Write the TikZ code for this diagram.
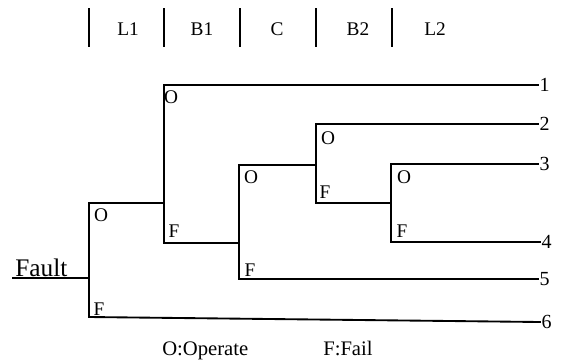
\documentclass[tikz,border=0pt]{standalone}
\usepackage{fontspec}
\setmainfont{Liberation Serif}
\begin{document}
\begin{tikzpicture}[x=0.75pt,y=-0.75pt,
  br/.style={line width=1.4pt,line join=miter,line cap=rect},
  sep/.style={line width=1.1pt},
  hdr/.style={font=\fontsize{14.5}{16}\selectfont,inner sep=0pt},
  ofl/.style={font=\fontsize{14.5}{16}\selectfont,inner sep=0pt},
  num/.style={font=\fontsize{15}{17}\selectfont,inner sep=1pt,anchor=west},
  leg/.style={font=\fontsize{15.5}{18}\selectfont,inner sep=0pt,anchor=base west}]
\useasboundingbox (0,0) rectangle (561,362);
% header
\foreach \i/\x in {1/89,2/164,3/240,4/316,5/392}{
  \coordinate (s\i t) at (\x,8); \coordinate (s\i b) at (\x,47);
  \draw[sep] (s\i t) -- (s\i b);}
\node[hdr] (hL1) at (128,29.5) {L1};
\node[hdr] (hB1) at (202,29.5) {B1};
\node[hdr] (hC) at (277,29.5) {C};
\node[hdr] (hB2) at (358,29.5) {B2};
\node[hdr] (hL2) at (435,29.5) {L2};
% coordinates
\coordinate (a0) at (13,278);
\coordinate (a1) at (89,278);
\coordinate (a2) at (89,203);
\coordinate (a3) at (89,317);
\coordinate (btop) at (164,85);
\coordinate (bmid) at (164,203);
\coordinate (bbot) at (164,243);
\coordinate (ctop) at (239,165);
\coordinate (cmid) at (239,243);
\coordinate (cbot) at (239,279);
\coordinate (dtop) at (316,124);
\coordinate (dmid) at (316,165);
\coordinate (dbot) at (316,203);
\coordinate (etop) at (391,164);
\coordinate (emid) at (391,203);
\coordinate (ebot) at (391,242);
\coordinate (e1) at (538,85);
\coordinate (e2) at (538,124);
\coordinate (e3) at (538,164);
\coordinate (e4) at (540,242);
\coordinate (e5) at (538,279);
\coordinate (e6) at (540,322);
% branches
\draw[br] (a0) -- (a1);
\draw[br] (a2) -- (a3);
\draw[br] (a3) -- (e6);
\draw[br] (a2) -- (bmid);
\draw[br] (btop) -- (bbot);
\draw[br] (btop) -- (e1);
\draw[br] (bbot) -- (cmid);
\draw[br] (ctop) -- (cbot);
\draw[br] (cbot) -- (e5);
\draw[br] (ctop) -- (dmid);
\draw[br] (dtop) -- (dbot);
\draw[br] (dtop) -- (e2);
\draw[br] (dbot) -- (emid);
\draw[br] (etop) -- (ebot);
\draw[br] (etop) -- (e3);
\draw[br] (ebot) -- (e4);
% end numbers
\node[num] (n1) at (e1) {1};
\node[num] (n2) at (e2) {2};
\node[num] (n3) at (e3) {3};
\node[num] (n4) at (e4) {4};
\node[num] (n5) at (e5) {5};
\node[num] (n6) at (e6) {6};
% O/F labels
\node[ofl] (oa) at (101,215) {O};
\node[ofl] (fa) at (99,309) {F};
\node[ofl] (ob) at (171,97) {O};
\node[ofl] (fb) at (174,231) {F};
\node[ofl] (oc) at (251,177) {O};
\node[ofl] (fc) at (250,270) {F};
\node[ofl] (od) at (328,138) {O};
\node[ofl] (fd) at (325,192) {F};
\node[ofl] (oe) at (404,177) {O};
\node[ofl] (fe) at (402,231) {F};
% fault
\node[font=\fontsize{19}{22}\selectfont,inner sep=0pt,anchor=base west] (fault) at (15,276) {Fault};
% legend
\node[leg] (lo) at (162,355) {O:Operate};
\node[leg] (lf) at (323,355) {F:Fail};
\end{tikzpicture}
\end{document}
